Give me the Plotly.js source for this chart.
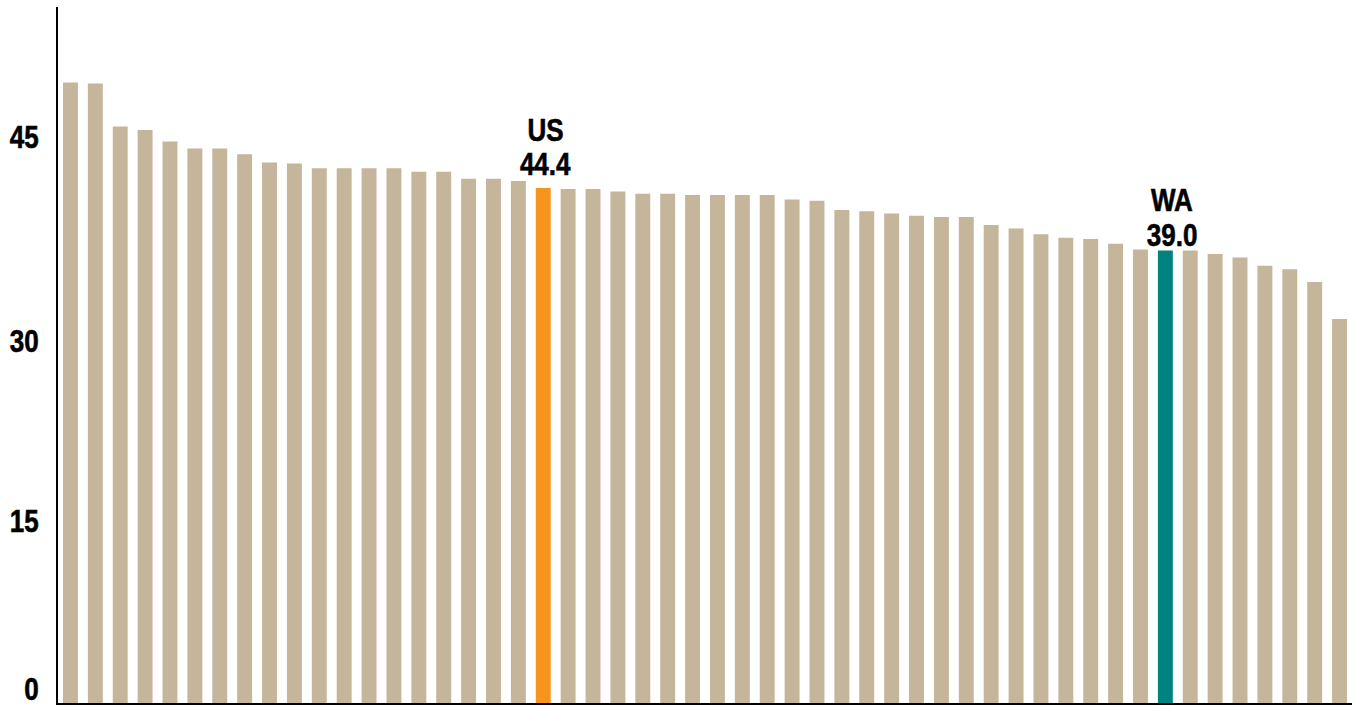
<!DOCTYPE html>
<html>
<head>
<meta charset="utf-8">
<script src="https://cdn.plot.ly/plotly-3.0.1.min.js"></script>
<style>
  html, body { margin: 0; padding: 0; background: #ffffff; }
  #chart { width: 1359px; height: 705px; }
</style>
</head>
<body>
<div id="chart"></div>
<script>
// Bar categories (ranked); only US and WA are identified in the chart
const categories = ["1","2","3","4","5","6","7","8","9","10",
  "11","12","13","14","15","16","17","18","19","US",
  "21","22","23","24","25","26","27","28","29","30",
  "31","32","33","34","35","36","37","38","39","40",
  "41","42","43","44","WA","46","47","48","49","50",
  "51","52"];

// Values
const values = [53.5, 53.4, 49.7, 49.4, 48.4, 47.8, 47.8, 47.3, 46.6, 46.5,
  46.1, 46.1, 46.1, 46.1, 45.8, 45.8, 45.2, 45.2, 45.0, 44.4,
  44.3, 44.3, 44.1, 43.9, 43.9, 43.8, 43.8, 43.8, 43.8, 43.4,
  43.3, 42.5, 42.4, 42.2, 42.0, 41.9, 41.9, 41.2, 40.9, 40.4,
  40.1, 40.0, 39.6, 39.1, 39.0, 39.0, 38.7, 38.4, 37.7, 37.4,
  36.3, 33.1];

// Highlighted bars
const highlightNames = ["US", "WA"];

// Y tick labels (placed where the reference draws them)
const yTickText = ["0", "15", "30", "45"];
const yTickPos = [1.2, 15.7, 31.2, 48.8];

const baseColor = "#C4B59B";
const highlightColors = { "US": "#F7941E", "WA": "#00837F" };
const labelShift = {
  "US": { x: 2.5, value: 4, name: 38 },
  "WA": { x: 7, value: -4, name: 30.5 }
};

// Condensed look: Liberation Sans Bold squeezed horizontally
const FONT = "'Liberation Sans', Arial, sans-serif";
const SQUEEZE = 0.84;
const FSIZE = 31;

const colors = categories.map(c => highlightColors[c] || baseColor);

const annotations = [];
highlightNames.forEach(name => {
  const i = categories.indexOf(name);
  const base = {
    x: categories[i], y: values[i], xref: "x", yref: "y",
    showarrow: false, yanchor: "bottom", xanchor: "center",
    xshift: labelShift[name].x,
    font: { family: FONT, size: FSIZE, color: "#000000", weight: 700 }
  };
  annotations.push(Object.assign({}, base, { text: values[i].toFixed(1), yshift: labelShift[name].value }));
  annotations.push(Object.assign({}, base, { text: name, yshift: labelShift[name].name }));
});

const trace = {
  type: "bar",
  x: categories,
  y: values,
  marker: { color: colors },
  hoverinfo: "x+y"
};

const layout = {
  width: 1359,
  height: 705,
  margin: { l: 58, r: 7, t: 7, b: 2, pad: 0 },
  paper_bgcolor: "#ffffff",
  plot_bgcolor: "#ffffff",
  showlegend: false,
  bargap: 0.4,
  xaxis: {
    type: "category",
    range: [-0.5, 51.5],
    showticklabels: false,
    ticks: "",
    showgrid: false,
    zeroline: false,
    showline: true,
    linecolor: "#000000",
    linewidth: 2,
    fixedrange: true
  },
  yaxis: {
    range: [0, 60],
    showgrid: false,
    zeroline: false,
    showline: true,
    linecolor: "#000000",
    linewidth: 2,
    ticks: "",
    tickmode: "array",
    tickvals: yTickPos,
    ticktext: yTickText,
    tickfont: { family: FONT, size: FSIZE, color: "#000000", weight: 700 },
    ticklabelstandoff: 11,
    ticklabeloverflow: "allow",
    fixedrange: true
  },
  annotations: annotations
};

function squeeze(el, mode) {
  const bb = el.getBBox();
  const cx = mode === "end" ? bb.x + bb.width : bb.x + bb.width / 2;
  const prev = el.getAttribute("transform") || "";
  el.setAttribute("transform", prev + " translate(" + cx + ",0) scale(" + SQUEEZE + ",1) translate(" + (-cx) + ",0)");
  el.style.stroke = "#000000";
  el.style.strokeWidth = "0.6px";
}

Plotly.newPlot("chart", [trace], layout, { displayModeBar: false, staticPlot: true }).then(gd => {
  gd.querySelectorAll(".ytick text").forEach(t => squeeze(t, "end"));
  gd.querySelectorAll(".annotation-text").forEach(t => squeeze(t, "middle"));
});
</script>
</body>
</html>
